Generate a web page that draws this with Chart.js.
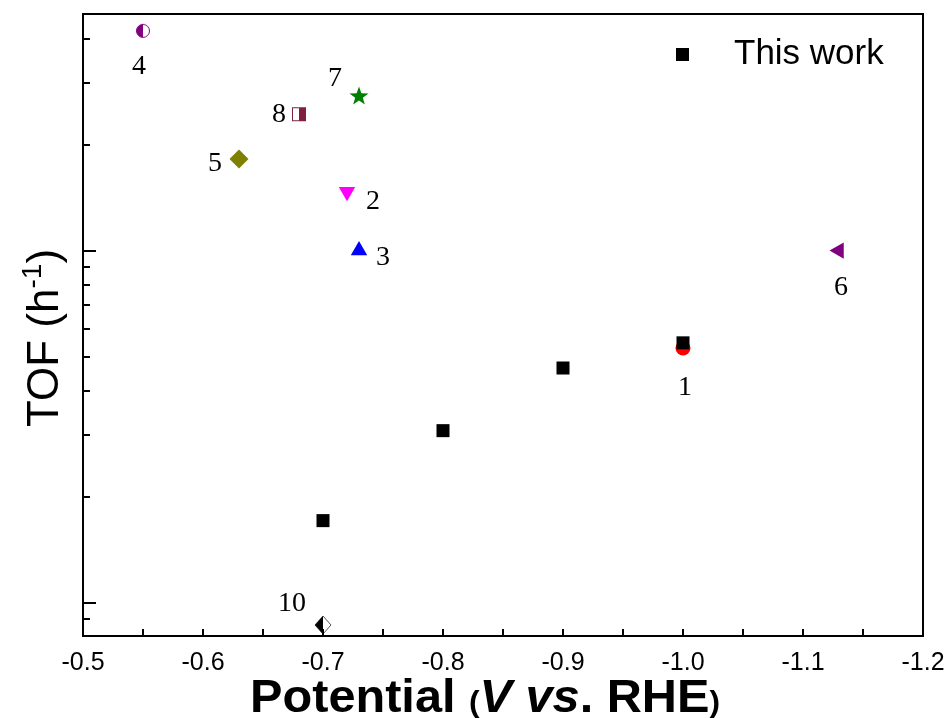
<!DOCTYPE html>
<html><head><meta charset="utf-8">
<script src="https://cdn.jsdelivr.net/npm/chart.js@4.4.1/dist/chart.umd.min.js"></script>
<style>html,body{margin:0;padding:0;background:#fff}#wrap{width:948px;height:718px;position:relative}</style>
</head><body><div id="wrap"><canvas id="c"></canvas></div>
<script>
// ---- data ----
const thisWorkX = [-0.7, -0.8, -0.9, -1.0];
const thisWorkY = [17.1, 30.8, 46.4, 54.7];
const refLabels = ['1', '2', '3', '4', '5', '6', '7', '8', '10'];
const refX = [-1.0, -0.72, -0.73, -0.55, -0.63, -1.13, -0.73, -0.68, -0.70];
const refY = [52.9, 147, 100, 421, 182, 100, 275, 244, 8.64];
const xTickValues = [-0.5, -0.6, -0.7, -0.8, -0.9, -1.0, -1.1, -1.2];
const xMinorValues = [-0.55, -0.65, -0.75, -0.85, -0.95, -1.05, -1.15];
const yMajorValues = [10, 100];
const legendLabel = 'This work';

// ---- styles ----
const refColors = ['#ff0000', '#ff00ff', '#0000ff', '#800080', '#808000', '#800080', '#008000', '#80203f', '#000000'];
const labelOffsets = [[2, 40], [26, 10], [24, 7], [-4, 36], [-24, 5], [2, 37], [-24, -17], [-20, 0], [-31, -21]];

function mk(w, h, fn) { const c = document.createElement('canvas'); c.width = w; c.height = h; fn(c.getContext('2d')); return c; }
const halfCircle = mk(16, 16, g => {
  g.lineWidth = 1; g.strokeStyle = '#800080';
  g.fillStyle = '#fff'; g.beginPath(); g.arc(8, 8, 6.5, 0, Math.PI * 2); g.fill(); g.stroke();
  g.fillStyle = '#800080'; g.beginPath(); g.arc(8, 8, 6.5, Math.PI / 2, Math.PI * 1.5); g.closePath(); g.fill();
});
const halfSquare = mk(16, 16, g => {
  g.fillStyle = '#fff'; g.fillRect(1.5, 1.5, 13, 13);
  g.strokeStyle = '#80203f'; g.lineWidth = 1; g.strokeRect(1.5, 1.5, 13, 13);
  g.fillStyle = '#80203f'; g.fillRect(8, 1.5, 6.5, 13);
});
const halfDiamond = mk(20, 20, g => {
  g.fillStyle = '#fff'; g.strokeStyle = '#555'; g.lineWidth = 1;
  g.beginPath(); g.moveTo(10, 1); g.lineTo(18, 10); g.lineTo(10, 19); g.lineTo(2, 10); g.closePath(); g.fill(); g.stroke();
  g.fillStyle = '#000'; g.beginPath(); g.moveTo(10, 1); g.lineTo(10, 19); g.lineTo(2, 10); g.closePath(); g.fill();
});
const star = mk(22, 22, g => {
  g.fillStyle = '#008000'; g.beginPath();
  for (let i = 0; i < 10; i++) {
    const r = i % 2 ? 4 : 10; const a = -Math.PI / 2 + i * Math.PI / 5;
    g.lineTo(11 + r * Math.cos(a), 11.5 + r * Math.sin(a));
  }
  g.closePath(); g.fill();
});
const refStyles = ['circle', 'triangle', 'triangle', halfCircle, 'rectRot', 'triangle', star, halfSquare, halfDiamond];
const refRot = [0, 180, 0, 0, 0, -90, 0, 0, 0];
const refRadius = [7.5, 9.5, 9.5, 8, 9.5, 9.5, 10, 8, 10];

const refDatasets = refLabels.map((lab, i) => ({
  label: lab,
  data: [{ x: refX[i], y: refY[i] }],
  pointStyle: refStyles[i],
  rotation: refRot[i],
  pointRadius: refRadius[i],
  backgroundColor: refColors[i],
  borderColor: refColors[i],
  borderWidth: 0,
  showLine: false
}));

const framePlugin = {
  id: 'frame',
  afterDraw(chart) {
    const { ctx, chartArea: a, scales: { x, y } } = chart;
    ctx.save();
    ctx.strokeStyle = '#000';
    ctx.lineWidth = 2;
    ctx.strokeRect(a.left, a.top, a.right - a.left, a.bottom - a.top);
    ctx.beginPath();
    [...xTickValues, ...xMinorValues].forEach(v => {
      const px = Math.round(x.getPixelForValue(v));
      ctx.moveTo(px, a.bottom); ctx.lineTo(px, a.bottom - 7);
    });
    for (let dec = 1; dec <= 1000; dec *= 10) {
      for (let n = 1; n <= 9; n++) {
        const v = dec * n;
        if (v < y.min || v > y.max) continue;
        const py = Math.round(y.getPixelForValue(v));
        const len = yMajorValues.includes(v) ? 13 : 7;
        ctx.moveTo(a.left, py); ctx.lineTo(a.left + len, py);
      }
    }
    ctx.stroke();

    // point number labels
    ctx.fillStyle = '#000';
    ctx.font = '28px "Liberation Serif", "Times New Roman", serif';
    ctx.textAlign = 'center';
    ctx.textBaseline = 'middle';
    refLabels.forEach((lab, i) => {
      const px = x.getPixelForValue(refX[i]) + labelOffsets[i][0];
      const py = y.getPixelForValue(refY[i]) + labelOffsets[i][1];
      ctx.fillText(lab, px, py);
    });

    // legend
    ctx.fillRect(676, 48, 13, 13);
    ctx.font = '35px "Liberation Sans", Arial, sans-serif';
    ctx.textAlign = 'left';
    ctx.fillText(legendLabel, 734, 54);

    // x title
    const B = '"Liberation Sans", Arial, sans-serif';
    const parts = [
      ['Potential ', 'bold 46px ' + B],
      ['(', 'bold 30px ' + B],
      ['V ', 'italic bold 46px ' + B],
      ['vs', 'italic bold 46px ' + B],
      ['. RHE', 'bold 46px ' + B],
      [')', 'bold 30px ' + B]
    ];
    let total = 0;
    parts.forEach(p => { ctx.font = p[1]; p[2] = ctx.measureText(p[0]).width; total += p[2]; });
    ctx.save();
    ctx.translate(485, 712);
    ctx.scale(total > 0 ? 470 / total : 1, 1);
    ctx.textBaseline = 'alphabetic';
    let cx = -total / 2;
    parts.forEach(p => { ctx.font = p[1]; ctx.fillText(p[0], cx, 0); cx += p[2]; });
    ctx.restore();

    // y title
    ctx.save();
    ctx.translate(58, 338);
    ctx.rotate(-Math.PI / 2);
    ctx.textBaseline = 'alphabetic';
    const f1 = '44px "Liberation Sans", Arial, sans-serif';
    const f2 = '28px "Liberation Sans", Arial, sans-serif';
    ctx.font = f1; const w1 = ctx.measureText('TOF (h').width; const w3 = ctx.measureText(')').width;
    ctx.font = f2; const w2 = ctx.measureText('-1').width;
    let t = -(w1 + w2 + w3) / 2;
    ctx.font = f1; ctx.fillText('TOF (h', t, 0); t += w1;
    ctx.font = f2; ctx.fillText('-1', t, -17); t += w2;
    ctx.font = f1; ctx.fillText(')', t, 0);
    ctx.restore();
    ctx.restore();
  }
};

new Chart(document.getElementById('c'), {
  type: 'scatter',
  data: {
    datasets: [
      {
        label: legendLabel,
        data: thisWorkX.map((v, i) => ({ x: v, y: thisWorkY[i] })),
        pointStyle: 'rect',
        pointRadius: 9.2,
        backgroundColor: '#000',
        borderColor: '#000',
        borderWidth: 0
      },
      ...refDatasets
    ]
  },
  options: {
    responsive: true,
    maintainAspectRatio: false,
    animation: false,
    layout: { padding: { top: 14, right: 25, left: 0, bottom: 0 } },
    plugins: { legend: { display: false }, tooltip: { enabled: false } },
    scales: {
      x: {
        type: 'linear',
        min: -1.2, max: -0.5,
        reverse: true,
        grid: { display: false, drawTicks: false },
        border: { display: false },
        afterBuildTicks: s => { s.ticks = xTickValues.map(v => ({ value: v })); },
        afterFit: s => { s.height = 82; s.paddingLeft = 0; s.paddingRight = 0; },
        ticks: {
          padding: 12,
          color: '#000',
          font: { family: '"Liberation Sans", Arial, sans-serif', size: 25 },
          callback: v => Number(v).toFixed(1)
        }
      },
      y: {
        type: 'logarithmic',
        min: 8.04, max: 470,
        grid: { display: false, drawTicks: false },
        border: { display: false },
        afterFit: s => { s.width = 83; s.paddingTop = 0; s.paddingBottom = 0; },
        ticks: { display: false }
      }
    }
  },
  plugins: [framePlugin]
});
</script>
</body></html>
